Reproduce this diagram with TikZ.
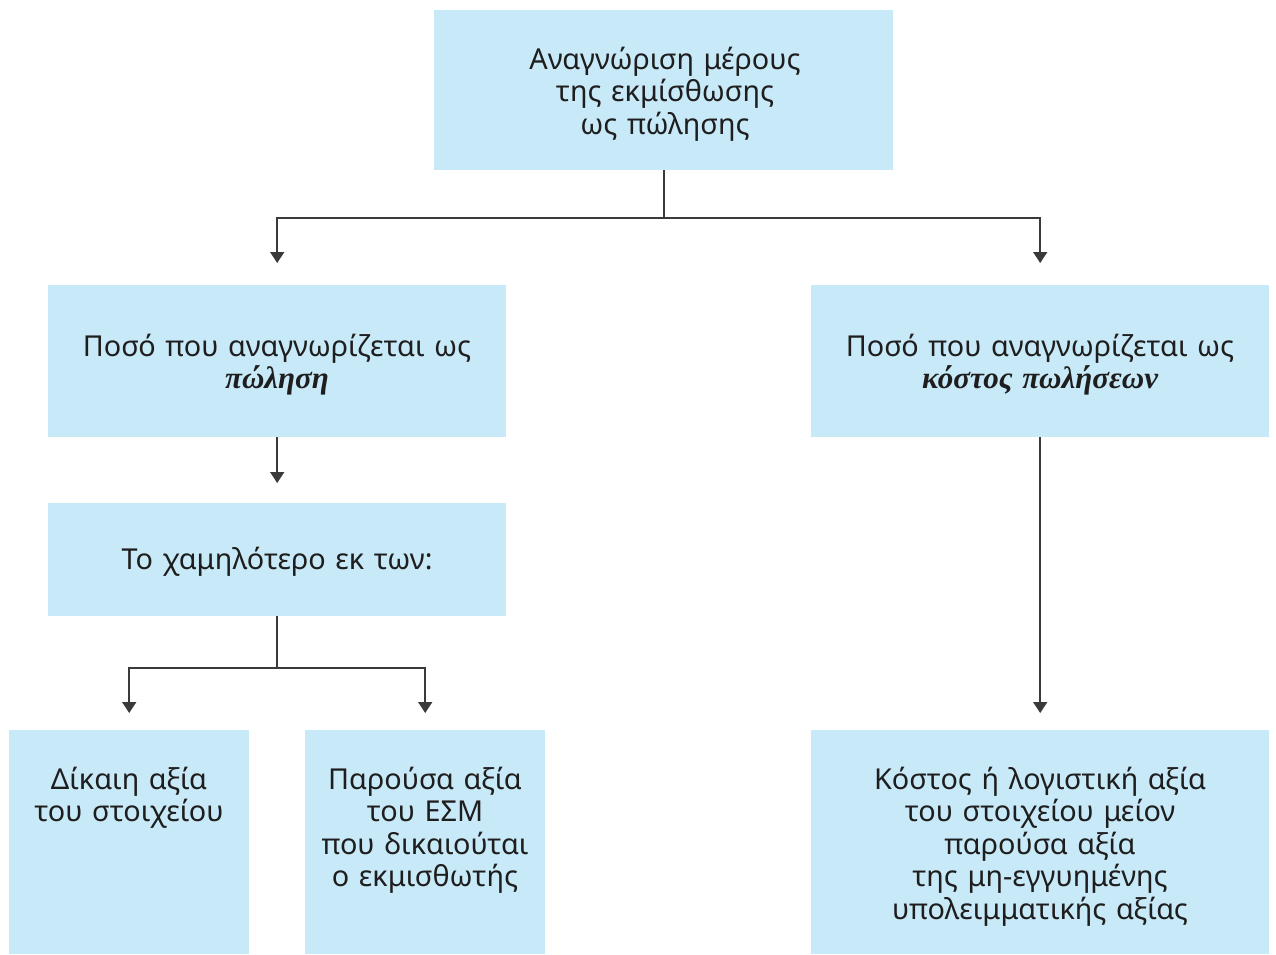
\documentclass[tikz,border=0pt]{standalone}
\usepackage{fontspec}
\setmainfont{Noto Sans}
\newfontfamily\emfont{Liberation Serif}
\usetikzlibrary{arrows.meta}
\definecolor{boxfill}{RGB}{200,233,248}
\definecolor{linkgray}{RGB}{58,58,58}
\definecolor{inkgray}{RGB}{30,30,30}
\newcommand{\keyterm}[1]{{\emfont\bfseries\itshape\fontsize{31}{32.5}\selectfont #1}}
\begin{document}
\begin{tikzpicture}[x=1pt,y=-1pt,
  box/.style={fill=boxfill, draw=none, inner sep=0pt, anchor=north west},
  txt/.style={text=inkgray, font=\fontsize{28.8}{32.5}\selectfont, align=center,
              inner sep=0pt, anchor=base, text width=#1},
  link/.style={draw=linkgray, line width=1.6pt},
  arr/.style={link, -{Triangle[width=14pt,length=11pt]}}]
\useasboundingbox (0,0) rectangle (1276,954);

% boxes
\node[box, minimum width=459pt, minimum height=160pt] (top)     at (434,10)  {};
\node[box, minimum width=458pt, minimum height=152pt] (sale)    at (48,285)  {};
\node[box, minimum width=458pt, minimum height=152pt] (cost)    at (811,285) {};
\node[box, minimum width=458pt, minimum height=113pt] (lower)   at (48,503)  {};
\node[box, minimum width=240pt, minimum height=224pt] (fair)    at (9,730)   {};
\node[box, minimum width=240pt, minimum height=224pt] (pv)      at (305,730) {};
\node[box, minimum width=458pt, minimum height=224pt] (costval) at (811,730) {};

% texts
\node[txt=450pt] (toptext) at (665,69)
  {Αναγνώριση μέρους\\της εκμίσθωσης\\ως πώλησης};
\node[txt=450pt] (saletext) at (277,356)
  {Ποσό που αναγνωρίζεται ως\\\keyterm{πώληση}};
\node[txt=450pt] (costtext) at (1040,356)
  {Ποσό που αναγνωρίζεται ως\\\keyterm{κόστος πωλήσεων}};
\node[txt=450pt] (lowertext) at (277,569)
  {Το χαμηλότερο εκ των:};
\node[txt=238pt] (fairtext) at (129,789)
  {Δίκαιη αξία\\του στοιχείου};
\node[txt=238pt] (pvtext) at (425,789)
  {Παρούσα αξία\\του ΕΣΜ\\που δικαιούται\\ο εκμισθωτής};
\node[txt=450pt] (costvaltext) at (1040,789)
  {Κόστος ή λογιστική αξία\\του στοιχείου μείον\\παρούσα αξία\\της μη-εγγυημένης\\υπολειμματικής αξίας};

% connectors
\coordinate (busA) at (top.south |- 0,218);
\draw[link] (top.south) -- (busA);
\draw[arr] (busA) -| ([yshift=22pt]sale.north);
\draw[arr] (busA) -| ([yshift=22pt]cost.north);
\draw[arr] (sale.south) -- ([yshift=20pt]lower.north);
\coordinate (busB) at (lower.south |- 0,668);
\draw[link] (lower.south) -- (busB);
\draw[arr] (busB) -| ([yshift=17pt]fair.north);
\draw[arr] (busB) -| ([yshift=17pt]pv.north);
\draw[arr] (cost.south) -- ([yshift=17pt]costval.north);
\end{tikzpicture}
\end{document}
